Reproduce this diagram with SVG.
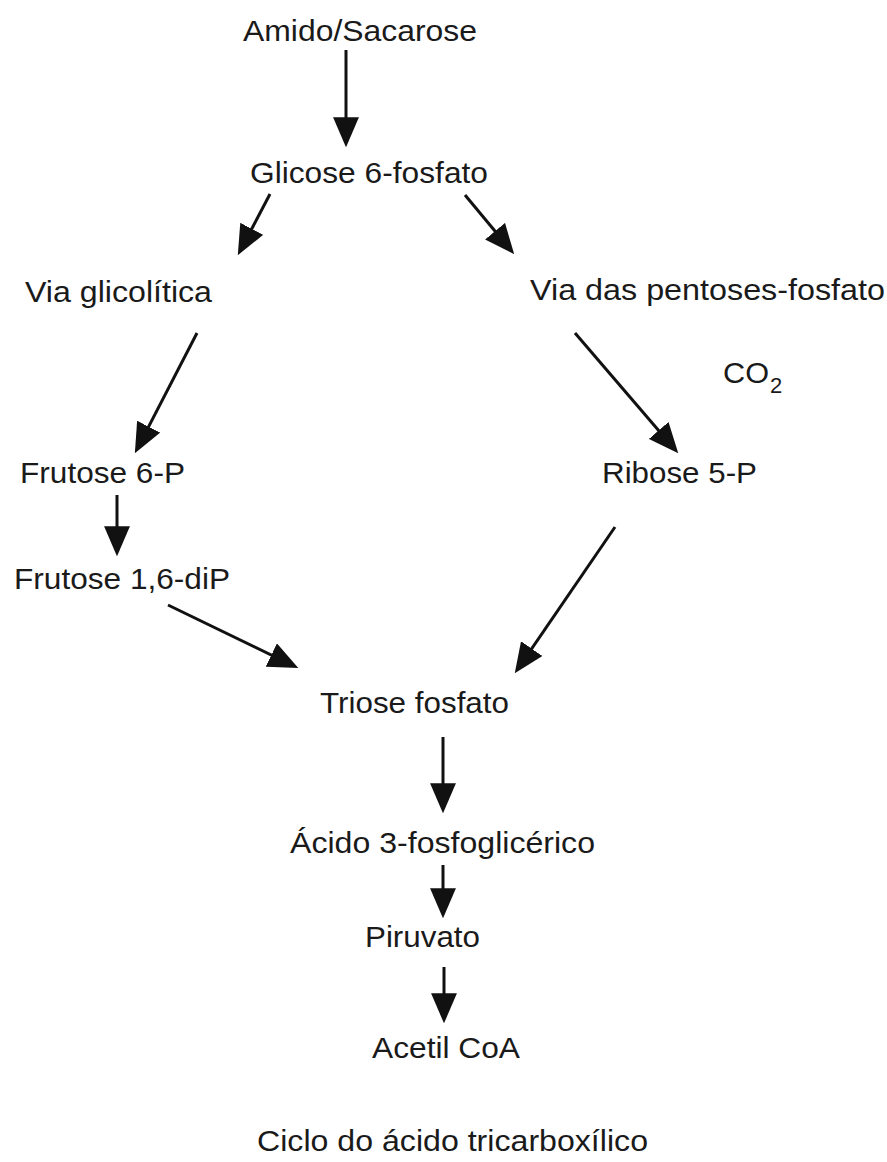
<svg xmlns="http://www.w3.org/2000/svg" width="887" height="1162" viewBox="0 0 887 1162">
<style>
text{font-family:"Liberation Sans",Arial,Helvetica,sans-serif;font-size:29px;fill:#1a1a1a}
.sub{font-size:22px}
line{stroke:#111;stroke-width:3}
</style>
<defs>
<marker id="ah" markerUnits="userSpaceOnUse" markerWidth="30" markerHeight="26" refX="19" refY="12.5" orient="auto" viewBox="0 0 29 25">
<path d="M0,0 L29,12.5 L0,25 Z" fill="#111"/>
</marker>
</defs>
<rect width="887" height="1162" fill="#fff"/>
<g id="connectors">
<line x1="346" y1="50" x2="346" y2="137" marker-end="url(#ah)"/>
<line x1="270" y1="194" x2="242.6" y2="246.2" marker-end="url(#ah)"/>
<line x1="465" y1="195" x2="507.6" y2="246.3" marker-end="url(#ah)"/>
<line x1="197" y1="333" x2="139.6" y2="444.1" marker-end="url(#ah)"/>
<line x1="575" y1="333" x2="671.5" y2="445.4" marker-end="url(#ah)"/>
<line x1="117" y1="495" x2="117" y2="546" marker-end="url(#ah)"/>
<line x1="168" y1="605" x2="289" y2="663.6" marker-end="url(#ah)"/>
<line x1="615" y1="527" x2="520.6" y2="664.8" marker-end="url(#ah)"/>
<line x1="443" y1="737" x2="443" y2="803" marker-end="url(#ah)"/>
<line x1="443" y1="865" x2="443" y2="908" marker-end="url(#ah)"/>
<line x1="444" y1="967" x2="444" y2="1013" marker-end="url(#ah)"/>
</g>
<g id="amido"><text x="243" y="41" textLength="234" lengthAdjust="spacingAndGlyphs">Amido/Sacarose</text></g>
<g id="glicose"><text x="250" y="183" textLength="238" lengthAdjust="spacingAndGlyphs">Glicose 6-fosfato</text></g>
<g id="via-glicolitica"><text x="25" y="302" textLength="187" lengthAdjust="spacingAndGlyphs">Via glicolítica</text></g>
<g id="via-pentoses"><text x="530" y="300" textLength="355" lengthAdjust="spacingAndGlyphs">Via das pentoses-fosfato</text></g>
<g id="co2"><text x="723" y="383" textLength="46" lengthAdjust="spacingAndGlyphs">CO</text><text class="sub" x="770" y="393">2</text></g>
<g id="ribose"><text x="602" y="483" textLength="155" lengthAdjust="spacingAndGlyphs">Ribose 5-P</text></g>
<g id="frutose6p"><text x="20" y="483" textLength="165" lengthAdjust="spacingAndGlyphs">Frutose 6-P</text></g>
<g id="frutose16dip"><text x="14" y="589" textLength="216" lengthAdjust="spacingAndGlyphs">Frutose 1,6-diP</text></g>
<g id="triose"><text x="320" y="713" textLength="189" lengthAdjust="spacingAndGlyphs">Triose fosfato</text></g>
<g id="acido3pg"><text x="290" y="853" textLength="305" lengthAdjust="spacingAndGlyphs">Ácido 3-fosfoglicérico</text></g>
<g id="piruvato"><text x="365" y="947" textLength="115" lengthAdjust="spacingAndGlyphs">Piruvato</text></g>
<g id="acetilcoa"><text x="372" y="1058" textLength="148" lengthAdjust="spacingAndGlyphs">Acetil CoA</text></g>
<g id="ciclo"><text x="257" y="1151" textLength="391" lengthAdjust="spacingAndGlyphs">Ciclo do ácido tricarboxílico</text></g>
</svg>
